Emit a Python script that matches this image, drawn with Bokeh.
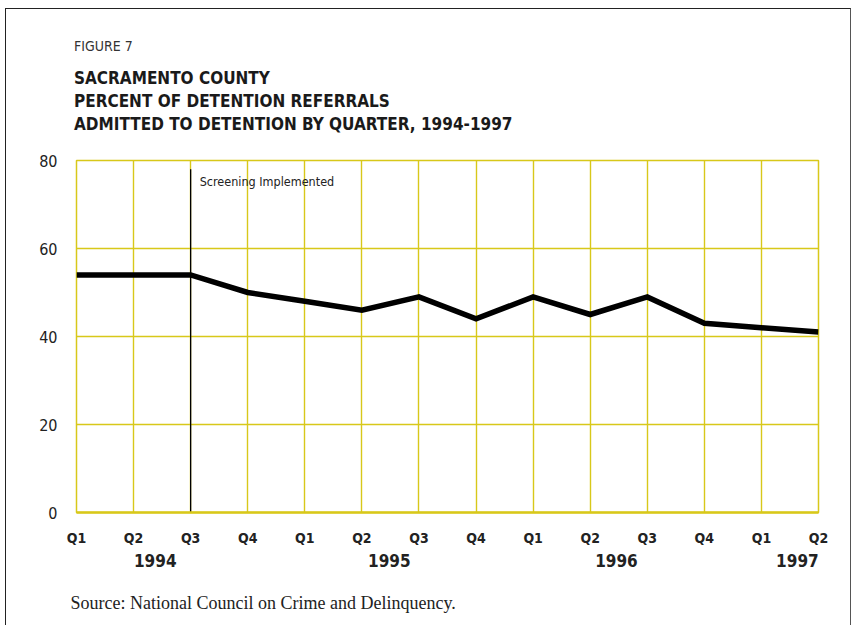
from bokeh.plotting import figure
from bokeh.models import Range1d, FixedTicker, Label, LinearAxis, Div
from bokeh.layouts import column
from bokeh.embed import file_html
from bokeh.resources import INLINE

quarters = ["Q1", "Q2", "Q3", "Q4", "Q1", "Q2", "Q3", "Q4", "Q1", "Q2", "Q3", "Q4", "Q1", "Q2"]
pct_admitted = [54, 54, 54, 50, 48, 46, 49, 44, 49, 45, 49, 43, 42, 41]
years = ["1994", "1995", "1996", "1997"]
year_pos = [1.38, 5.48, 9.46, 12.63]
y_ticks = [0, 20, 40, 60, 80]
screening_q = 2
screening_top = 78
fig_label = "FIGURE 7"
title_lines = ["SACRAMENTO COUNTY", "PERCENT OF DETENTION REFERRALS",
               "ADMITTED TO DETENTION BY QUARTER, 1994-1997"]
source_text = "Source: National Council on Crime and Delinquency."

FONT = "DejaVu Sans Condensed"
YEL = "#d8c81a"
W = 844

x = list(range(len(quarters)))

p = figure(output_backend="svg", toolbar_location=None,
           frame_width=742, frame_height=352,
           x_range=Range1d(0, len(quarters) - 1), y_range=Range1d(0, 80),
           min_border_left=70, min_border_right=32,
           min_border_top=13, min_border_bottom=62,
           background_fill_color="white", border_fill_color="white",
           outline_line_color=YEL, outline_line_width=1.5, margin=0)

p.xaxis.ticker = FixedTicker(ticks=x)
p.xaxis.major_label_overrides = {i: q for i, q in enumerate(quarters)}
p.yaxis.ticker = FixedTicker(ticks=y_ticks)
p.xaxis.axis_line_color = YEL
p.xaxis.axis_line_width = 2.5
p.yaxis.axis_line_color = None
p.xaxis.major_label_text_font = FONT
p.xaxis.major_label_text_font_size = "14px"
p.xaxis.major_label_text_font_style = "bold"
p.xaxis.major_label_text_color = "#222222"
p.xaxis.major_label_standoff = 17
p.yaxis.major_label_text_font = FONT
p.yaxis.major_label_text_font_size = "16px"
p.yaxis.major_label_text_color = "#222222"
p.yaxis.major_label_standoff = 19

yr_axis = LinearAxis(ticker=FixedTicker(ticks=year_pos),
                     major_label_overrides={v: y for v, y in zip(year_pos, years)},
                     axis_line_color=None, major_label_standoff=5,
                     major_label_text_font=FONT, major_label_text_font_size="17px",
                     major_label_text_font_style="bold", major_label_text_color="#222222")
p.add_layout(yr_axis, "below")

for ax in p.axis:
    ax.major_tick_line_color = None
    ax.minor_tick_line_color = None
    ax.major_tick_out = 0
    ax.major_tick_in = 0

p.xgrid.ticker = FixedTicker(ticks=x)
p.ygrid.ticker = FixedTicker(ticks=y_ticks)
for g in (p.xgrid[0], p.ygrid[0]):
    g.grid_line_color = YEL
    g.grid_line_width = 1.4

p.segment(x0=[screening_q], y0=[0], x1=[screening_q], y1=[screening_top],
          line_color="black", line_width=1.3)
p.add_layout(Label(x=screening_q, y=75.2, x_offset=9, text="Screening Implemented",
                   text_font=FONT, text_font_size="12.5px", text_color="#222222",
                   text_baseline="alphabetic"))

p.line(x, pct_admitted, line_color="black", line_width=5.5, line_join="miter")

sans = f"font-family:'{FONT}';"
title_svg = (
    f'<svg width="{W}" height="138" xmlns="http://www.w3.org/2000/svg">'
    f'<text x="68" y="41.5" style="{sans}font-size:14px;fill:#333;font-weight:normal">{fig_label}</text>'
)
for t, yy in zip(title_lines, [74.5, 97.8, 121.2]):
    title_svg += (f'<text x="68" y="{yy}" style="{sans}font-size:17px;font-weight:bold;'
                  f'fill:#1a1a1a">{t}</text>')
title_svg += '</svg>'
title_div = Div(text=title_svg, width=W, height=138, margin=0)

source_svg = (f'<svg width="{W}" height="51" xmlns="http://www.w3.org/2000/svg">'
              f'<text x="64.5" y="34.8" style="font-family:\'Liberation Serif\';font-size:18px;'
              f'fill:#222">{source_text}</text></svg>')
source_div = Div(text=source_svg, width=W, height=51, margin=0)

layout = column(title_div, p, source_div, margin=(8, 0, 0, 5),
                styles={"border-left": "1.5px solid #222", "border-top": "1.5px solid #222",
                        "border-right": "1.5px solid #555"})

open("out.html", "w").write(file_html(layout, INLINE))
